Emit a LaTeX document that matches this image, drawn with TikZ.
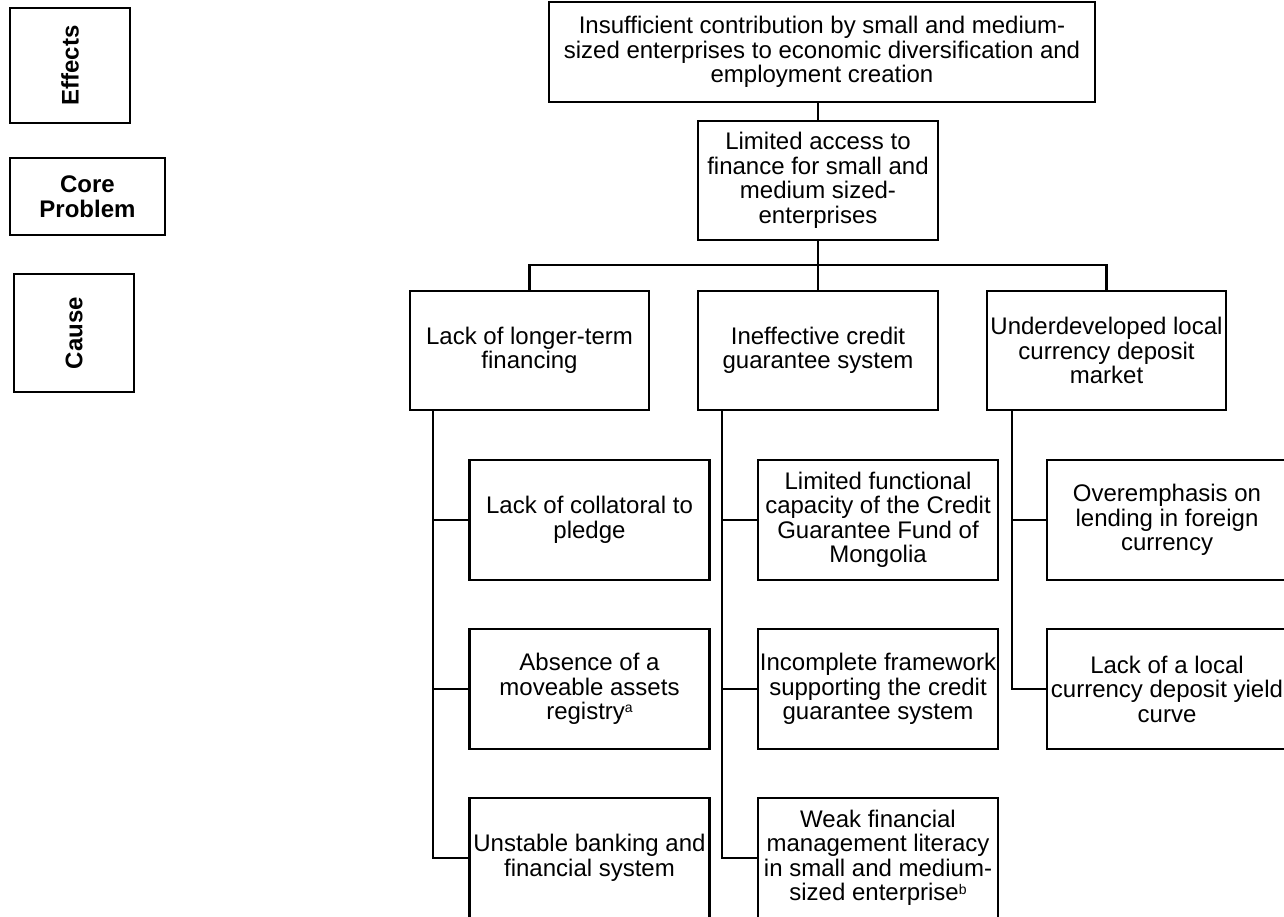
\documentclass[tikz,border=0pt]{standalone}
\usepackage{fontspec}
\setmainfont{Liberation Sans}
\newcommand{\supnote}[1]{\raisebox{0.28em}{\fontsize{14}{14}\selectfont #1}}
\begin{document}
\begin{tikzpicture}[x=1pt,y=-1pt,
  box/.style={draw=black,line width=2.3pt,fill=white,rectangle,inner sep=0pt,align=center,
    font=\fontsize{24}{24.5}\selectfont},
  legendbox/.style={draw=black,line width=2.3pt,rectangle,inner sep=0pt,align=center,
    font=\fontsize{24}{25}\selectfont\bfseries},
  wide/.style={minimum width=240pt,minimum height=120pt},
  link/.style={draw=black,line width=2.7pt}]
\useasboundingbox (0,0) rectangle (1284,916);
\clip (0,0) rectangle (1284,916);
% legend
\node[legendbox,rotate=90,minimum width=115pt,minimum height=120pt] (eff) at (70,65.5) {Effects};
\node[legendbox,minimum width=155pt,minimum height=77pt] (core) at (87.5,196.5) {Core\\Problem};
\node[legendbox,rotate=90,minimum width=118pt,minimum height=120pt] (cause) at (74,333) {Cause};
% effect and core problem
\node[box,minimum width=546pt,minimum height=100pt] (top) at (822,52)
  {Insufficient contribution by small and medium-\\sized enterprises to economic diversification and\\employment creation};
\node[box,minimum width=240pt,minimum height=119pt] (lim) at (818,180.5)
  {Limited access to\\finance for small and\\medium sized-\\enterprises};
% causes
\node[box,minimum width=239pt,minimum height=119pt] (c1) at (529.5,350.5) {Lack of longer-term\\financing};
\node[box,minimum width=240pt,minimum height=119pt] (c2) at (818,350.5) {Ineffective credit\\guarantee system};
\node[box,minimum width=239pt,minimum height=119pt] (c3) at (1106.5,350.5) {Underdeveloped local\\currency deposit\\market};
% sub causes
\node[box,wide] (l1) at (589.5,520) {Lack of collatoral to\\pledge};
\node[box,wide] (l2) at (589.5,689) {Absence of a\\moveable assets\\registry\supnote{a}};
\node[box,wide] (l3) at (589.5,858) {Unstable banking and\\financial system};
\node[box,wide] (m1) at (878,520) {Limited functional\\capacity of the Credit\\Guarantee Fund of\\Mongolia};
\node[box,wide] (m2) at (878,689) {Incomplete framework\\supporting the credit\\guarantee system};
\node[box,wide] (m3) at (878,858) {Weak financial\\management literacy\\in small and medium-\\sized enterprise\supnote{b}};
\node[box,wide] (r1) at (1167,520) {Overemphasis on\\lending in foreign\\currency};
\node[box,wide] (r2) at (1167,689) {Lack of a local\\currency deposit yield\\curve};
% connectors
\coordinate (bar) at (818,265);
\coordinate (t1) at (433,410);
\coordinate (t2) at (722,410);
\coordinate (t3) at (1012,410);
\draw[link] (lim.north) -- (lim.north |- top.south);
\draw[link] (lim.south) -- (c2.north);
\draw[link] (c1.north) |- (bar) -| (c3.north);
\draw[link] (t1) |- (l1.west);
\draw[link] (t1) |- (l2.west);
\draw[link] (t1) |- (l3.west);
\draw[link] (t2) |- (m1.west);
\draw[link] (t2) |- (m2.west);
\draw[link] (t2) |- (m3.west);
\draw[link] (t3) |- (r1.west);
\draw[link] (t3) |- (r2.west);
\end{tikzpicture}
\end{document}
